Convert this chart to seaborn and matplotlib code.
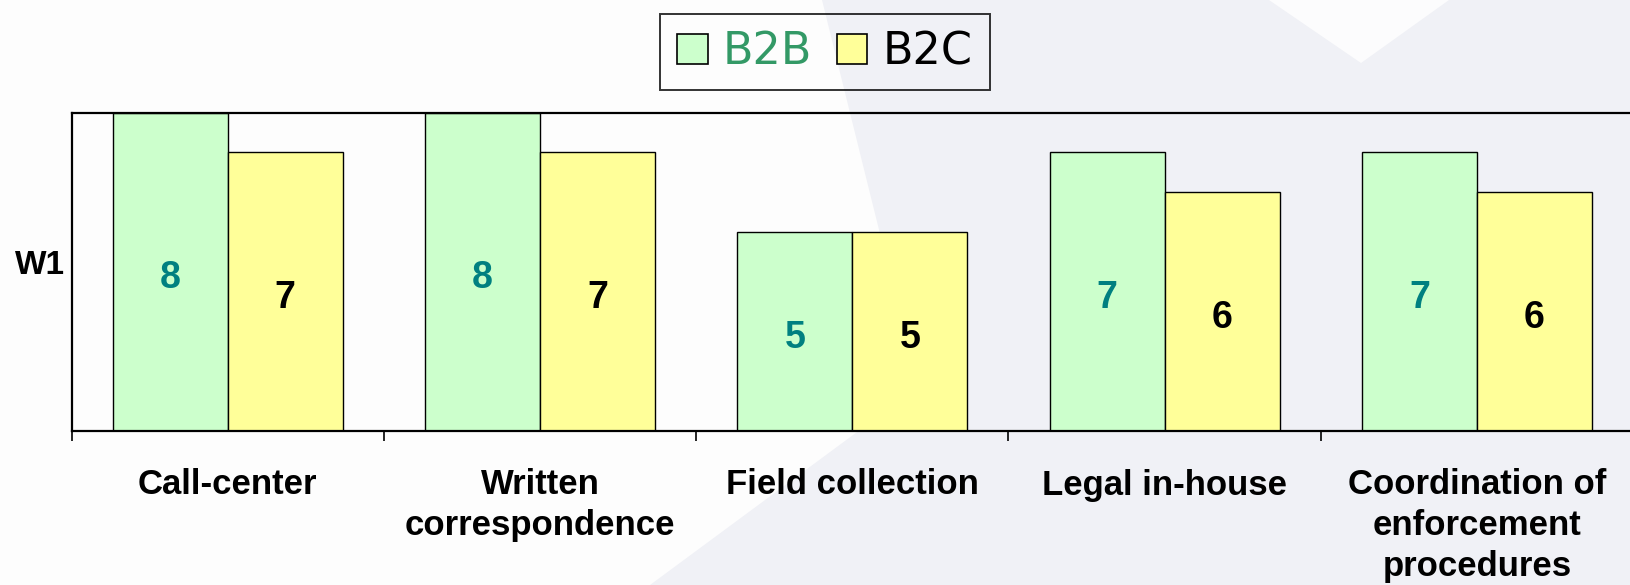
import matplotlib
matplotlib.use("Agg")
import matplotlib.pyplot as plt
from matplotlib.patches import Polygon, Patch
from matplotlib.ticker import FixedLocator
import seaborn as sns
import pandas as pd

categories = ["Call-center", "Written\ncorrespondence", "Field collection",
              "Legal in-house", "Coordination of\nenforcement\nprocedures"]
series_names = ["B2B", "B2C"]
b2b_values = [8, 8, 5, 7, 7]
b2c_values = [7, 7, 5, 6, 6]
y_label = "W1"

GREEN = "#ccffcc"
YELLOW = "#ffff99"
TEAL = "#008080"
LEGEND_GREEN = "#339966"

sns.set_style("white")
plt.rcParams["font.family"] = ["Liberation Sans", "DejaVu Sans"]
plt.rcParams["text.color"] = "black"
plt.rcParams["axes.labelcolor"] = "black"
plt.rcParams["xtick.color"] = "black"
plt.rcParams["ytick.color"] = "black"

W, H = 1631, 585
fig = plt.figure(figsize=(W / 100, H / 100), dpi=100)
fig.patch.set_facecolor("#fdfdfd")

# faint background watermark
def px(pts):
    return [(x / W, 1 - y / H) for x, y in pts]

fig.patches.append(Polygon(px([(822, 0), (918, 387), (650, 585), (1631, 585), (1631, 0)]),
                           closed=True, transform=fig.transFigure, facecolor="#f0f1f6",
                           edgecolor="none", zorder=-10))
fig.patches.append(Polygon(px([(1269, 0), (1449, 0), (1361, 63)]),
                           closed=True, transform=fig.transFigure, facecolor="#fcfcfd",
                           edgecolor="none", zorder=-9))

ax = fig.add_axes([71.6 / W, 1 - 431 / H, (1633 - 71.6) / W, (431 - 112.7) / H])
ax.set_facecolor("none")

df = pd.DataFrame({
    "category": categories * 2,
    "segment": [series_names[0]] * len(categories) + [series_names[1]] * len(categories),
    "value": b2b_values + b2c_values,
})

sns.barplot(data=df, x="category", y="value", hue="segment", order=categories,
            hue_order=series_names, palette=[GREEN, YELLOW], saturation=1,
            edgecolor="black", linewidth=1.0, width=0.737, ax=ax, legend=False,
            errorbar=None)

ax.set_ylim(0, 8)
ax.set_xlim(-0.5, len(categories) - 0.5)

label_colors = [TEAL, "black"]
for cont, col in zip(ax.containers, label_colors):
    anns = ax.bar_label(cont, fmt="%d", label_type="center", color=col,
                        fontsize=27, fontweight="bold")
    for a in anns:
        a.xyann = (0, -4.5)

# axes styling
for s in ["top", "left", "bottom"]:
    ax.spines[s].set_visible(True)
    ax.spines[s].set_color("black")
    ax.spines[s].set_linewidth(1.6)
ax.spines["right"].set_visible(False)

ax.set_yticks([])
ax.set_xlabel("")
ax.set_ylabel(y_label, rotation=0, fontsize=24, fontweight="bold", ha="center",
              va="center", color="black")
ax.yaxis.set_label_coords(-0.0203, 0.52)

ax.xaxis.set_minor_locator(FixedLocator([i - 0.5 for i in range(len(categories) + 1)]))
ax.tick_params(axis="x", which="minor", bottom=True, length=7.5, width=1.2,
               direction="out", color="black")
ax.tick_params(axis="x", which="major", bottom=True, length=0, pad=27, labelcolor="black")
ax.set_xticks(range(len(categories)))
ax.set_xticklabels(categories, fontsize=25, fontweight="bold", linespacing=1.3,
                   color="black")

# legend
handles = [Patch(facecolor=GREEN, edgecolor="black", linewidth=1.2),
           Patch(facecolor=YELLOW, edgecolor="black", linewidth=1.2)]
leg = fig.legend(handles, series_names, loc="center", bbox_to_anchor=(825 / W, 1 - 52 / H),
                 ncol=2, frameon=True, fancybox=False, handlelength=0.68, handleheight=0.68,
                 handletextpad=0.35, columnspacing=0.55, borderpad=0.38,
                 prop={"family": "DejaVu Sans", "size": 32})
leg.get_frame().set_edgecolor("black")
leg.get_frame().set_linewidth(1.4)
leg.get_frame().set_facecolor("none")
leg.get_texts()[0].set_color(LEGEND_GREEN)
leg.get_texts()[1].set_color("black")

fig.savefig("out.png", dpi=100, facecolor=fig.get_facecolor())
